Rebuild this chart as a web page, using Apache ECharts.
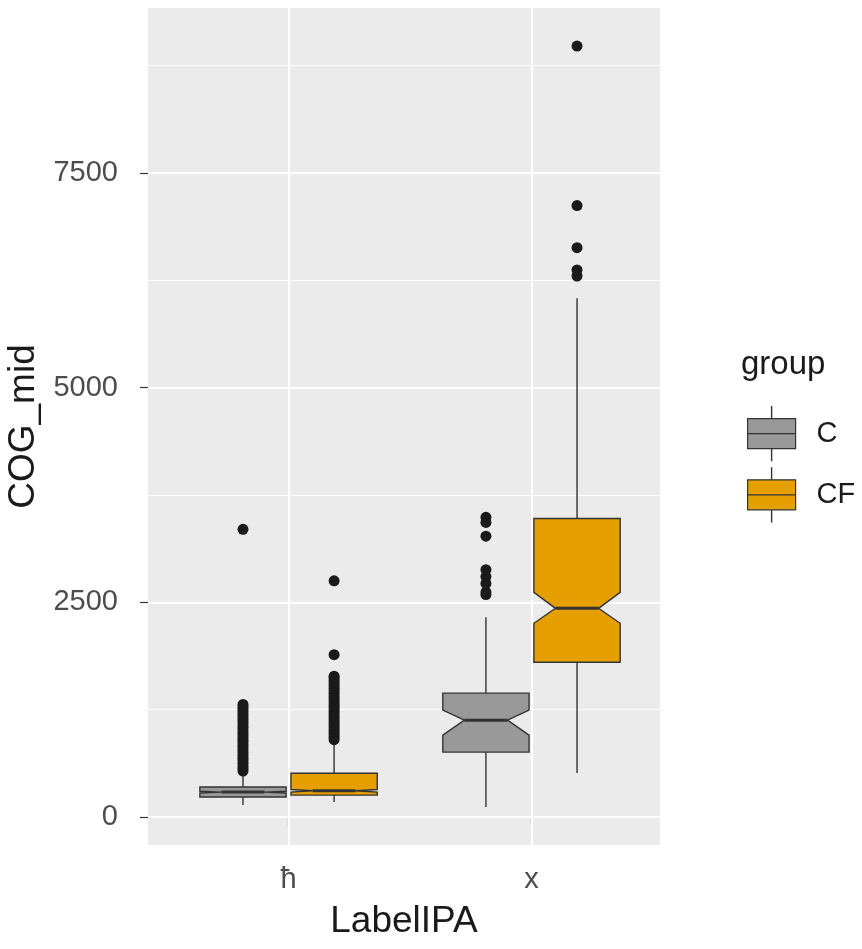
<!DOCTYPE html>
<html>
<head>
<meta charset="utf-8">
<script src="https://cdn.jsdelivr.net/npm/echarts@6/dist/echarts.min.js"></script>
<style>
html,body{margin:0;padding:0;background:#fff;}
#chart{width:862px;height:949px;}
</style>
</head>
<body>
<div id="chart"></div>
<script>
// ---- data ----
const categories = ['ħ', 'x'];
const groups = ['C', 'CF'];
// stats per category: [lowWhisker, Q1, notchLow, median, notchHigh, Q3, highWhisker]
const statsC  = [[140, 233, 280, 290, 300, 349, 520], [117, 756, 953, 1128, 1244, 1442, 2326]];
const statsCF = [[175, 255, 290, 305, 320, 510, 880], [512, 1802, 2256, 2430, 2616, 3477, 6040]];
// outliers per category
const outliersC  = [
  [535, 565, 595, 625, 655, 685, 715, 745, 775, 805, 835, 865, 895, 925, 955, 985, 1015, 1045, 1075, 1105, 1135, 1165, 1195, 1225, 1255, 1285, 1310, 3350],
  [2590, 2620, 2720, 2800, 2880, 3270, 3430, 3490]
];
const outliersCF = [
  [900, 930, 960, 990, 1020, 1050, 1080, 1110, 1140, 1170, 1200, 1230, 1260, 1290, 1320, 1350, 1380, 1410, 1440, 1470, 1500, 1530, 1560, 1590, 1620, 1640, 1890, 2750],
  [6300, 6370, 6630, 7120, 8978]
];
const yTicks = [0, 2500, 5000, 7500];
const yMinor = [1250, 3750, 6250, 8750];
const groupColors = ['#999999', '#E69F00'];

// ---- layout constants ----
const dodge = 0.1875;   // half of dodge offset
const boxWidth = 0.355;

// ggplot-like continuous expansion (5%)
const allVals = [];
[statsC, statsCF].forEach(s => s.forEach(r => allVals.push(...r)));
[outliersC, outliersCF].forEach(s => s.forEach(r => allVals.push(...r)));
const dMin = Math.min(...allVals), dMax = Math.max(...allVals);
const yMin = dMin - 0.05 * (dMax - dMin);
const yMax = dMax + 0.05 * (dMax - dMin);

const FONT = 'Liberation Sans, Arial, Helvetica, sans-serif';
const ink = '#333333';

function boxSeries(name, stats, color, offset) {
  return {
    type: 'custom',
    name: name,
    z: 4,
    itemStyle: { color: color, borderColor: ink },
    encode: { x: 0, y: [1, 2, 3, 4, 5, 6, 7] },
    data: stats.map((s, i) => [i + 1].concat(s)),
    renderItem: function (params, api) {
      const xv = api.value(0) + offset;
      const lo = api.value(1), q1 = api.value(2), nl = api.value(3),
            med = api.value(4), nh = api.value(5), q3 = api.value(6), hi = api.value(7);
      const cx = api.coord([xv, 0])[0];
      const half = api.size([boxWidth, 0])[0] / 2;
      const ind = half * 0.5;
      const Y = v => api.coord([xv, v])[1];
      const L = cx - half, R = cx + half;
      const pts = [
        [L, Y(q3)], [L, Y(nh)], [L + ind, Y(med)], [L, Y(nl)], [L, Y(q1)],
        [R, Y(q1)], [R, Y(nl)], [R - ind, Y(med)], [R, Y(nh)], [R, Y(q3)]
      ];
      const lineStyle = { stroke: ink, lineWidth: 1.4 };
      return {
        type: 'group',
        children: [
          { type: 'line', shape: { x1: cx, y1: Y(q3), x2: cx, y2: Y(hi) }, style: lineStyle },
          { type: 'line', shape: { x1: cx, y1: Y(q1), x2: cx, y2: Y(lo) }, style: lineStyle },
          { type: 'polygon', shape: { points: pts }, style: { fill: color, stroke: ink, lineWidth: 1.4 } },
          { type: 'line', shape: { x1: L + ind, y1: Y(med), x2: R - ind, y2: Y(med) }, style: { stroke: ink, lineWidth: 3 } }
        ]
      };
    }
  };
}

function outlierSeries(name, outs, offset) {
  const data = [];
  outs.forEach((arr, i) => arr.forEach(v => data.push([i + 1 + offset, v])));
  return {
    type: 'scatter',
    name: name,
    z: 5,
    symbol: 'circle',
    symbolSize: 11,
    itemStyle: { color: '#1a1a1a', opacity: 1 },
    silent: true,
    data: data
  };
}

const gridSeries = {
  type: 'scatter',
  name: 'grid',
  z: 1,
  data: [],
  silent: true,
  markLine: {
    silent: true,
    z: 1,
    symbol: ['none', 'none'],
    label: { show: false },
    animation: false,
    data: [
      ...yMinor.map(v => ({ yAxis: v, lineStyle: { color: '#ffffff', width: 1, type: 'solid' } })),
      ...yTicks.map(v => ({ yAxis: v, lineStyle: { color: '#ffffff', width: 2, type: 'solid' } })),
      ...categories.map((c, i) => ({ xAxis: i + 1, lineStyle: { color: '#ffffff', width: 2, type: 'solid' } }))
    ]
  }
};

const legendIcon = 'path://M23.9,0h0.2v12h-0.2zM0,12h48v15h-48zM0,27h48v15h-48zM23.9,42h0.2v12h-0.2z';

const option = {
  animation: false,
  backgroundColor: '#ffffff',
  textStyle: { fontFamily: FONT },
  title: [{
    text: 'group',
    left: 736, top: 343,
    textStyle: { fontFamily: FONT, fontSize: 33, fontWeight: 'normal', color: '#1a1a1a' }
  }],
  legend: {
    data: groups,
    orient: 'vertical',
    left: 742, top: 401,
    icon: legendIcon,
    itemWidth: 48, itemHeight: 54,
    itemGap: 6,
    itemStyle: { borderColor: ink, borderWidth: 1.2 },
    textStyle: { fontFamily: FONT, fontSize: 29, color: '#1a1a1a', padding: [0, 0, 0, 16] },
    selectedMode: false
  },
  grid: {
    left: 148, right: 202, top: 8, bottom: 104,
    containLabel: false,
    outerBoundsMode: 'none',
    show: true, backgroundColor: '#EBEBEB', borderWidth: 0
  },
  xAxis: {
    type: 'value',
    min: 0.4215, max: 2.529,
    name: 'LabelIPA',
    nameLocation: 'middle',
    nameGap: 58,
    nameTextStyle: { fontFamily: FONT, fontSize: 37, color: '#1a1a1a' },
    axisLine: { show: false },
    axisTick: { show: true, length: 8, customValues: [1, 2], lineStyle: { color: ink, width: 1.2 } },
    axisLabel: {
      customValues: [1, 2],
      formatter: v => categories[Math.round(v) - 1],
      fontFamily: FONT, fontSize: 29, color: '#4D4D4D', margin: 20
    },
    splitLine: { show: false }
  },
  yAxis: {
    type: 'value',
    min: yMin, max: yMax,
    name: 'COG_mid',
    nameLocation: 'middle',
    nameGap: 100,
    nameTextStyle: { fontFamily: FONT, fontSize: 37, color: '#1a1a1a' },
    axisLine: { show: false },
    axisTick: { show: true, length: 8, customValues: yTicks, lineStyle: { color: ink, width: 1.2 } },
    axisLabel: {
      customValues: yTicks,
      formatter: v => String(Math.round(v)),
      fontFamily: FONT, fontSize: 29, color: '#4D4D4D', margin: 30
    },
    splitLine: { show: false }
  },
  series: [
    gridSeries,
    boxSeries('C', statsC, groupColors[0], -dodge),
    boxSeries('CF', statsCF, groupColors[1], dodge),
    outlierSeries('C outliers', outliersC, -dodge),
    outlierSeries('CF outliers', outliersCF, dodge)
  ]
};

const chart = echarts.init(document.getElementById('chart'), null, { renderer: 'canvas' });
chart.setOption(option);
</script>
</body>
</html>
